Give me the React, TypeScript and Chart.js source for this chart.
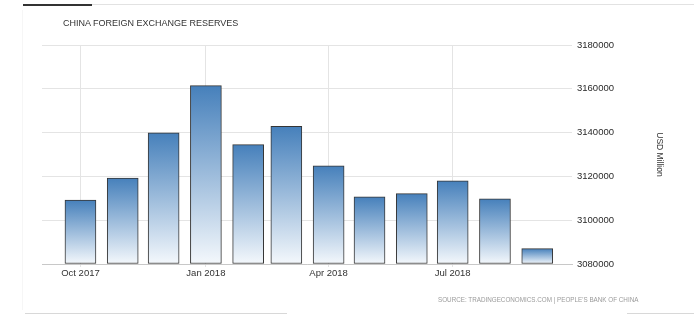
import React, { useEffect, useRef } from "react";
import { Chart, registerables } from "chart.js";

Chart.register(...registerables);

// ---- data ----
const months = [
  "2017-10-01", "2017-11-01", "2017-12-01", "2018-01-01", "2018-02-01", "2018-03-01",
  "2018-04-01", "2018-05-01", "2018-06-01", "2018-07-01", "2018-08-01", "2018-09-01",
];
const reserves = [
  3109220, 3119280, 3139950, 3161480, 3134480, 3142820,
  3124850, 3110620, 3112130, 3117940, 3109720, 3087020,
];
const xTickDates = ["2017-10-01", "2018-01-01", "2018-04-01", "2018-07-01"];
const xTickLabels = ["Oct 2017", "Jan 2018", "Apr 2018", "Jul 2018"];
const yMin = 3080000;
const yMax = 3180000;
const yStep = 20000;
const chartTitle = "CHINA FOREIGN EXCHANGE RESERVES";
const yTitle = "USD Million";
const sourceText = "SOURCE: TRADINGECONOMICS.COM | PEOPLE'S BANK OF CHINA";

const DAY = 86400000;
const ORIGIN = Date.parse("2017-10-01T00:00:00Z");
const toDay = (s: string) => (Date.parse(s + "T00:00:00Z") - ORIGIN) / DAY;

export default function App() {
  const ref = useRef<HTMLCanvasElement | null>(null);

  useEffect(() => {
    if (!ref.current) return;
    const tickVals = xTickDates.map(toDay);
    const chart = new Chart(ref.current, {
      type: "bar",
      data: {
        datasets: [
          {
            data: months.map((m, i) => ({ x: toDay(m), y: reserves[i] })),
            base: yMin,
            barThickness: 31,
            borderWidth: 1,
            borderColor: "#353535",
            borderSkipped: false,
            backgroundColor: (ctx: any) => {
              const chart = ctx.chart;
              const ys = chart.scales?.y;
              if (!ys || ctx.type !== "data" || !ctx.raw) return "#8fb0d4";
              const top = ys.getPixelForValue(ctx.raw.y);
              const bottom = ys.getPixelForValue(yMin);
              if (!Number.isFinite(top) || !Number.isFinite(bottom) || top === bottom) return "#8fb0d4";
              const g = chart.ctx.createLinearGradient(0, top, 0, bottom);
              g.addColorStop(0, "#4680bb");
              g.addColorStop(1, "#f4f8fc");
              return g;
            },
          } as any,
        ],
      },
      options: {
        animation: false,
        responsive: false,
        maintainAspectRatio: false,
        layout: { padding: { left: 42, top: 45, right: 30, bottom: 33 } },
        plugins: { legend: { display: false }, tooltip: { enabled: false } },
        scales: {
          x: {
            type: "linear",
            offset: false,
            min: -28.2,
            max: 360.5,
            afterBuildTicks: (scale: any) => {
              scale.ticks = tickVals.map((v) => ({ value: v }));
            },
            afterFit: (scale: any) => {
              scale.height = 20;
            },
            ticks: {
              autoSkip: false,
              maxRotation: 0,
              padding: 1,
              color: "#333",
              font: { family: "'Liberation Sans', Arial, sans-serif", size: 9.5 },
              callback: (value: any) => {
                const i = tickVals.indexOf(value);
                return i >= 0 ? xTickLabels[i] : "";
              },
            },
            grid: { color: "#e4e4e4", tickLength: 3, lineWidth: 1, offset: false },
            border: { color: "#c8c8c8" },
          },
          y: {
            position: "right",
            min: yMin,
            max: yMax,
            afterFit: (scale: any) => {
              scale.width = 92;
            },
            ticks: {
              stepSize: yStep,
              padding: 5,
              color: "#2a2a2a",
              font: { family: "'Liberation Sans', Arial, sans-serif", size: 9.5 },
              callback: (value: any) => String(value),
            },
            grid: { color: "#e4e4e4", drawTicks: false },
            border: { display: false },
            title: {
              display: true,
              text: yTitle,
              color: "#333",
              padding: 0,
              font: { family: "'Liberation Sans', Arial, sans-serif", size: 8.5 },
            },
          },
        },
      },
    } as any);
    chart.update();
    return () => chart.destroy();
  }, []);

  return (
    <div style={{ position: "fixed", left: 0, top: 0, width: 694, height: 317, background: "#fff", overflow: "hidden" }}>
      <div style={{ position: "absolute", left: 92, top: 4, width: 602, height: 1, background: "#e2e2e2" }} />
      <div style={{ position: "absolute", left: 23, top: 4, width: 69, height: 2, background: "#333" }} />
      <div style={{ position: "absolute", left: 22, top: 10, width: 1, height: 300, background: "#f6f6f6" }} />
      <canvas ref={ref} width={694} height={317} style={{ position: "absolute", left: 0, top: 0 }} />
      <div
        style={{
          position: "absolute",
          left: 63,
          top: 17,
          fontFamily: "'Liberation Sans', Arial, sans-serif",
          fontSize: 9,
          color: "#333",
          whiteSpace: "nowrap",
          lineHeight: "12px",
        }}
      >
        {chartTitle}
      </div>
      <div
        style={{
          position: "absolute",
          left: 438,
          top: 296,
          fontFamily: "'Liberation Sans', Arial, sans-serif",
          fontSize: 6.3,
          color: "#9a9a9a",
          whiteSpace: "nowrap",
          lineHeight: "8px",
        }}
      >
        {sourceText}
      </div>
      <div style={{ position: "absolute", left: 25, top: 313, width: 262, height: 1, background: "#d8d8d8" }} />
      <div style={{ position: "absolute", left: 627, top: 313, width: 67, height: 1, background: "#d8d8d8" }} />
    </div>
  );
}
